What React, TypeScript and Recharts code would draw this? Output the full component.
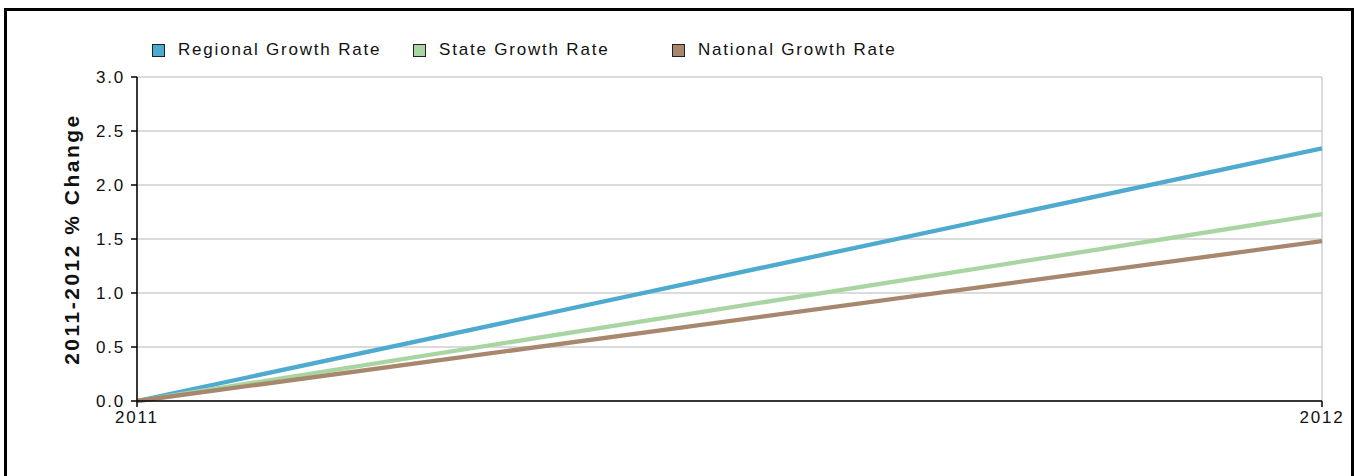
import { CartesianGrid, Legend, Line, LineChart, XAxis, YAxis } from "recharts";

const years = ["2011", "2012"];
const regional = [0, 2.34];
const state = [0, 1.73];
const national = [0, 1.48];
const yTicks = [0, 0.5, 1, 1.5, 2, 2.5, 3];

const SERIES = [
  { key: "regional", name: "Regional Growth Rate", color: "#4eaacf", x: 152 },
  { key: "state", name: "State Growth Rate", color: "#a9d5a3", x: 413 },
  { key: "national", name: "National Growth Rate", color: "#a8876f", x: 672 },
];

const FONT = "'Liberation Sans', Arial, sans-serif";

const data = years.map((year, i) => ({
  year,
  regional: regional[i],
  state: state[i],
  national: national[i],
}));

function LegendContent() {
  return (
    <div style={{ position: "relative", height: 20, width: 900 }}>
      {SERIES.map((s) => (
        <div
          key={s.key}
          style={{
            position: "absolute",
            left: s.x,
            top: 0,
            display: "flex",
            alignItems: "center",
            fontFamily: FONT,
            fontSize: 17,
            letterSpacing: 1.8,
            color: "#111",
            whiteSpace: "nowrap",
          }}
        >
          <span
            style={{
              display: "inline-block",
              width: 11,
              height: 11,
              background: s.color,
              border: "1px solid #222",
              marginRight: 13,
            }}
          />
          {s.name}
        </div>
      ))}
    </div>
  );
}

export default function App() {
  return (
    <div
      style={{
        position: "fixed",
        left: 0,
        top: 0,
        width: 1357,
        height: 476,
        overflow: "hidden",
        background: "#fff",
      }}
    >
      <div
        style={{
          position: "absolute",
          left: 4,
          top: 8,
          width: 1344,
          height: 520,
          border: "3px solid #000",
        }}
      />
      <div style={{ position: "absolute", left: 0, top: 0 }}>
        <LineChart
          width={1357}
          height={476}
          data={data}
          margin={{ top: 57, right: 35, bottom: 45, left: 77 }}
        >
          <CartesianGrid stroke="#cfcfcf" strokeWidth={1.5} />
          <XAxis
            dataKey="year"
            stroke="#000"
            strokeWidth={1.5}
            tickSize={6}
            tickMargin={4}
            height={30}
            interval={0}
            tick={{ fill: "#111", fontFamily: FONT, fontSize: 17, letterSpacing: 1.8 }}
          />
          <YAxis
            domain={[0, 3]}
            ticks={yTicks}
            tickFormatter={(v: number) => v.toFixed(1)}
            width={60}
            stroke="#000"
            strokeWidth={1.5}
            tickSize={6}
            tickMargin={6}
            interval={0}
            tick={{ fill: "#111", fontFamily: FONT, fontSize: 17, letterSpacing: 1.8 }}
            label={{
              value: "2011-2012 % Change",
              angle: -90,
              position: "insideLeft",
              dx: -10,
              dy: 0,
              style: {
                fontFamily: FONT,
                fontSize: 21,
                fontWeight: "bold",
                letterSpacing: 2.5,
                fill: "#111",
                textAnchor: "middle",
              },
            }}
          />
          <Legend
            verticalAlign="top"
            align="left"
            content={<LegendContent />}
            wrapperStyle={{ top: 40, left: 0 }}
          />
          {SERIES.map((s) => (
            <Line
              key={s.key}
              dataKey={s.key}
              name={s.name}
              stroke={s.color}
              strokeWidth={4.3}
              dot={false}
              activeDot={false}
              isAnimationActive={false}
            />
          ))}
        </LineChart>
      </div>
    </div>
  );
}
